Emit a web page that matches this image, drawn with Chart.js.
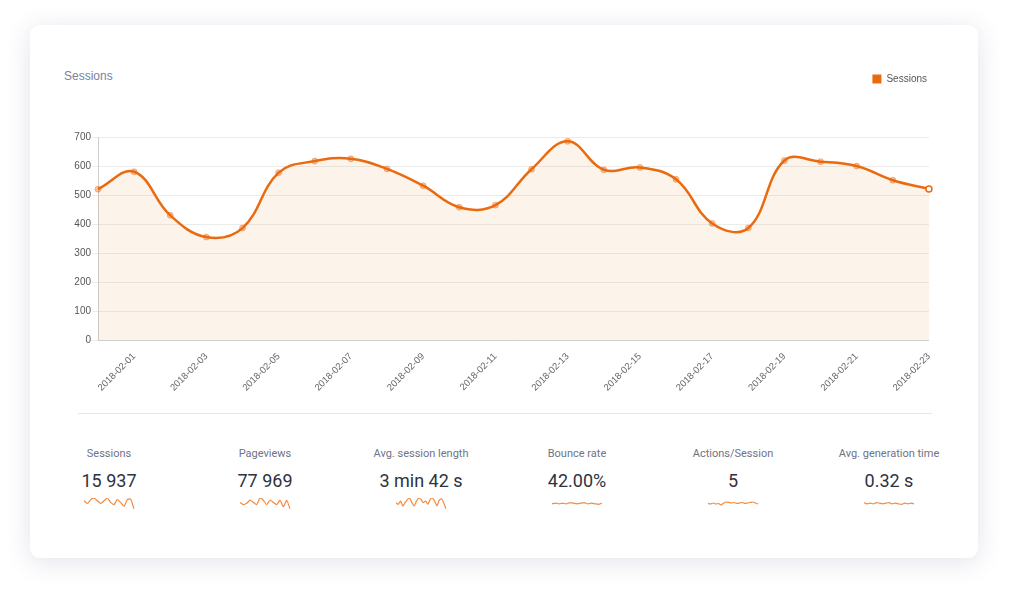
<!DOCTYPE html>
<html>
<head>
<meta charset="utf-8">
<script src="https://cdn.jsdelivr.net/npm/chart.js@4/dist/chart.umd.min.js"></script>
<style>
html,body{margin:0;padding:0;background:#fff;width:1010px;height:612px;overflow:hidden;}
.card{position:absolute;left:30px;top:25px;width:948px;height:533px;background:#fff;border-radius:10px;box-shadow:0 4px 26px rgba(50,60,110,0.14);}
.title{position:absolute;left:64px;top:69px;font:12px "Liberation Sans",Arial,sans-serif;color:#7d819b;}
#main{position:absolute;left:40px;top:58px;}
.sep{position:absolute;left:78px;top:413px;width:854px;height:1px;background:#e6e6e6;}
.kpis{position:absolute;left:31px;top:445px;width:936px;display:flex;}
.kpi{width:156px;text-align:center;}
.lbl{font:11px Roboto,sans-serif;color:#6f7386;height:18px;line-height:18px;}
.val{font:18px Roboto,sans-serif;color:#2d3341;height:24px;line-height:24px;margin-top:6px;}
.spark{display:block;margin:4px auto 0 auto;}
</style>
</head>
<body>
<div class="card"></div>
<div class="title">Sessions</div>
<canvas id="main" width="900" height="342"></canvas>
<div class="sep"></div>
<div class="kpis" id="kpis"></div>
<script>
// ---- data ----
const dates = ['2018-01-31','2018-02-01','2018-02-02','2018-02-03','2018-02-04','2018-02-05','2018-02-06','2018-02-07','2018-02-08','2018-02-09','2018-02-10','2018-02-11','2018-02-12','2018-02-13','2018-02-14','2018-02-15','2018-02-16','2018-02-17','2018-02-18','2018-02-19','2018-02-20','2018-02-21','2018-02-22','2018-02-23'];
const sessions = [520,580,430,355,386,577,617,625,590,532,458,465,589,685,587,595,554,402,386,619,615,600,551,521];
const yTicks = [0,100,200,300,400,500,600,700];

const kpiLabels = ['Sessions','Pageviews','Avg. session length','Bounce rate','Actions/Session','Avg. generation time'];
const kpiValues = ['15 937','77 969','3 min 42 s','42.00%','5','0.32 s'];
const sparkSessions = [15,10,17,20,15,10,15,20,12,8,17,12,5,17,18,0];
const sparkPageviews = [10,5,8,15,10,5,20,15,5,15,10,5,15,0,15,-5];
const sparkLength = [12,10,14,8,12,16,18,12,8,14,18,16,12,14,10,16,18,14,8,15,17,12,4];
const sparkBounce = [20,21,20,21,20,22,21,20,21,22,20,21,20,19,21];
const sparkActions = [15,14,16,14,15,12,16,18,17,16,17,15,16,17,15,16,17,18,16,14];
const sparkGen = [20,18,19,18,20,19,18,19,20,18,19,18,17,19,18,19,18];
const sparks = [sparkSessions,sparkPageviews,sparkLength,sparkBounce,sparkActions,sparkGen];

// ---- main chart ----
const ORANGE = '#ea6a0f';
const lastIdx = sessions.length - 1;
const legendMargin = {
  id:'legendMargin',
  beforeInit(chart){
    const fit = chart.legend.fit;
    chart.legend.fit = function(){ fit.bind(chart.legend)(); this.height += 43; };
  }
};
new Chart(document.getElementById('main'), {
  type:'line',
  data:{
    labels:dates,
    datasets:[{
      label:'Sessions',
      data:sessions,
      borderColor:ORANGE,
      backgroundColor:'rgba(225,135,45,0.1)',
      fill:true,
      tension:0.4,
      borderWidth:2.5,
      pointRadius:3,
      pointBorderWidth:c => c.dataIndex===lastIdx ? 1.5 : 1,
      pointBackgroundColor:c => c.dataIndex===lastIdx ? '#ffffff' : 'rgba(234,106,15,0.4)',
      pointBorderColor:c => c.dataIndex===lastIdx ? ORANGE : 'rgba(234,106,15,0.4)'
    }]
  },
  options:{
    responsive:false,
    animation:false,
    layout:{padding:{top:10,right:7,left:0,bottom:0}},
    plugins:{
      legend:{
        position:'top', align:'end',
        labels:{
          boxWidth:9, boxHeight:9, padding:6, color:'#555',
          font:{size:10,family:'"Liberation Sans", Arial, sans-serif'},
          generateLabels:(chart)=>Chart.defaults.plugins.legend.labels.generateLabels(chart).map(l=>Object.assign(l,{fillStyle:ORANGE,strokeStyle:ORANGE,lineWidth:0}))
        }
      },
      tooltip:{enabled:false}
    },
    scales:{
      x:{
        grid:{display:false},
        border:{color:'#cfcfcf'},
        ticks:{
          autoSkip:false, maxRotation:45, minRotation:45, color:'#666',
          font:{size:9.5,family:'"Liberation Sans", Arial, sans-serif'},
          callback:function(v,i){ return i%2===1 ? dates[i] : ''; }
        },
        afterFit:s=>{ s.height = 60; }
      },
      y:{
        min:0, max:700,
        afterBuildTicks:s=>{ s.ticks = yTicks.map(v=>({value:v})); },
        grid:{color:'#ebebeb', tickLength:6},
        border:{color:'#cfcfcf'},
        ticks:{padding:1,color:'#555',font:{size:10,family:'"Liberation Sans", Arial, sans-serif'}},
        afterFit:s=>{ s.width = 58; }
      }
    }
  },
  plugins:[legendMargin]
});

// ---- KPI row ----
const kpis = document.getElementById('kpis');
kpiLabels.forEach((lab,i)=>{
  const d = document.createElement('div'); d.className='kpi';
  d.innerHTML = '<div class="lbl"></div><div class="val"></div>';
  d.querySelector('.lbl').textContent = lab;
  d.querySelector('.val').textContent = kpiValues[i];
  const c = document.createElement('canvas'); c.className='spark'; c.width=52; c.height=13;
  d.appendChild(c);
  kpis.appendChild(d);
  const arr = sparks[i];
  const mn = Math.min(...arr), mx = Math.max(...arr);
  new Chart(c, {
    type:'line',
    data:{labels:arr.map((_,k)=>k), datasets:[{data:arr,borderColor:'#f58a3e',borderWidth:1.2,pointRadius:0,tension:0.2,fill:false}]},
    options:{responsive:false,animation:false,layout:{padding:1},
      plugins:{legend:{display:false},tooltip:{enabled:false}},
      scales:{x:{display:false},y:{display:false,min:mn-(i>=3?8:0),max:mx+(i>=3?8:0)}}}
  });
});
</script>
</body>
</html>
